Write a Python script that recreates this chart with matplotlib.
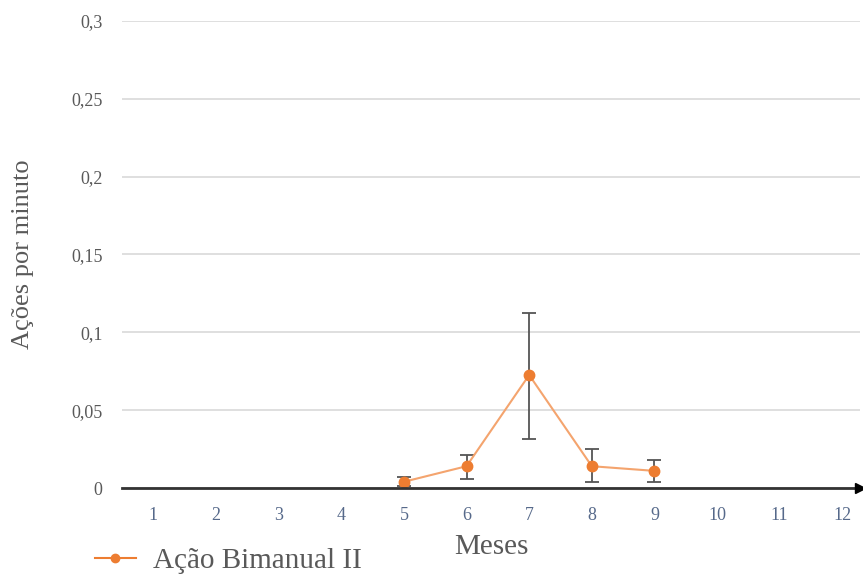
import matplotlib
matplotlib.use("Agg")
import matplotlib.pyplot as plt

months = [1, 2, 3, 4, 5, 6, 7, 8, 9, 10, 11, 12]
x_vals = [5, 6, 7, 8, 9]
y_vals = [0.004, 0.014, 0.0726, 0.014, 0.011]
err_low = [0.003, 0.008, 0.041, 0.010, 0.007]
err_high = [0.003, 0.007, 0.040, 0.011, 0.007]
y_ticks = [0, 0.05, 0.1, 0.15, 0.2, 0.25, 0.3]
y_tick_labels = ["0", "0,05", "0,1", "0,15", "0,2", "0,25", "0,3"]
series_name = "Ação Bimanual II"

plt.rcParams['font.family'] = ['Liberation Serif', 'DejaVu Serif']

fig = plt.figure(figsize=(8.63, 5.75), dpi=100)
ax = fig.add_axes([0.1414, 0.1513, 0.855, 0.8122])

orange = '#ED7D31'
ax.errorbar(x_vals, y_vals, yerr=[err_low, err_high], fmt='none', ecolor='#555555',
            elinewidth=1.3, capsize=5, capthick=1.3, zorder=3)
ax.plot(x_vals, y_vals, color='#F4A46E', lw=1.5, zorder=4)
ax.plot(x_vals, y_vals, 'o', color=orange, ms=7.5, zorder=5)

ax.set_xlim(0.5, 12.28)
ax.set_ylim(0, 0.3)
ax.set_xticks(months)
ax.set_xticklabels([str(m) for m in months])
ax.set_yticks(y_ticks)
ax.set_yticklabels(y_tick_labels)
ax.tick_params(axis='x', length=0, pad=14, labelsize=13, labelcolor='#56698a')
ax.tick_params(axis='y', length=0, pad=14, labelsize=13, labelcolor='#595959')
ax.grid(axis='y', color='#d9d9d9', lw=1.2)
ax.set_axisbelow(True)
for s in ['top', 'right', 'left']:
    ax.spines[s].set_visible(False)
ax.spines['bottom'].set_color('#333333')
ax.spines['bottom'].set_linewidth(2)
ax.spines['bottom'].set_zorder(6)
ax.plot([1.0], [0], marker='>', color='black', ms=7, transform=ax.transAxes,
        clip_on=False, zorder=7)

ax.set_xlabel("Meses", fontsize=21, color='#595959', labelpad=7)
ax.set_ylabel("Ações por minuto", fontsize=19, color='#595959', labelpad=27)

fig.legend([plt.Line2D([0], [0], color=orange, lw=1.5, marker='o', ms=6)],
           [series_name], loc='center left', bbox_to_anchor=(0.110, 0.024),
           frameon=False, fontsize=21, labelcolor='#595959', handlelength=1.4,
           handletextpad=0.6, borderpad=0, borderaxespad=0)

fig.savefig("out.png", dpi=100)
